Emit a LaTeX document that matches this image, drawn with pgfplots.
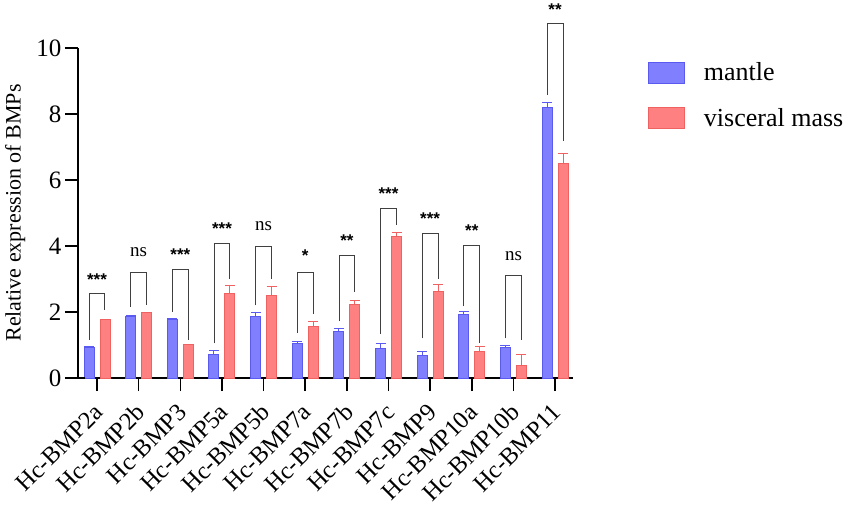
\documentclass[border=0pt]{standalone}
\usepackage{pgfplots}
\pgfplotsset{compat=1.18}
\usepackage{pgfplotstable}
\usepackage{fontspec}
\setmainfont{Liberation Serif}
\newfontfamily\starfont{Liberation Sans}
\definecolor{bfill}{HTML}{8080FF}
\definecolor{bedge}{HTML}{5A5AF0}
\definecolor{rfill}{HTML}{FF8080}
\definecolor{redge}{HTML}{F06262}
\definecolor{brk}{HTML}{404040}
\pgfplotstableread{
x m me v ve
0 0.93 0.03 1.76 0.02
1 1.87 0.03 1.97 0.03
2 1.78 0.03 1.01 0.02
3 0.70 0.13 2.55 0.25
4 1.87 0.10 2.50 0.28
5 1.06 0.06 1.57 0.13
6 1.40 0.10 2.22 0.12
7 0.89 0.17 4.29 0.13
8 0.67 0.14 2.63 0.19
9 1.92 0.10 0.79 0.17
10 0.93 0.07 0.38 0.32
11 8.20 0.16 6.49 0.31
}\datatable
\newcommand{\st}[1]{{\starfont\bfseries\fontsize{17}{17}\selectfont #1}}
\newcommand{\ns}{{\fontsize{19}{19}\selectfont ns}}
\begin{document}
\begin{tikzpicture}
\path[use as bounding box] (-78pt,-131pt) rectangle (773pt,378pt);
\begin{axis}[
  ybar, bar width=10pt,
  scale only axis, width=495pt, height=330pt,
  xmin=-0.457, xmax=11.43, ymin=0, ymax=10,
  axis lines=left, axis line style={-, line width=1.5pt, black},
  clip=false,
  xtick={0,...,11}, xticklabels={Hc-BMP2a,Hc-BMP2b,Hc-BMP3,Hc-BMP5a,Hc-BMP5b,Hc-BMP7a,Hc-BMP7b,Hc-BMP7c,Hc-BMP9,Hc-BMP10a,Hc-BMP10b,Hc-BMP11},
  ytick={0,2,...,10},
  tick align=outside, major tick length=13pt, tick style={line width=1.5pt, black},
  minor tick num=0,
  /pgf/number format/assume math mode=true,
  yticklabel style={font=\fontsize{25}{25}\selectfont},
  xticklabel style={font=\fontsize{24.5}{24.5}\selectfont, xshift=2pt, yshift=-17pt, rotate=45, anchor=east, inner sep=0pt},
  ylabel={Relative expression of BMPs},
  ylabel style={font=\fontsize{22}{22}\selectfont, at={(axis description cs:-0.127,0.5)}, anchor=center},
  legend image code/.code={\draw[#1, line width=1pt] (0pt,-10.5pt) rectangle (36pt,10.5pt);},
  legend style={draw=none, fill=none, at={(axis description cs:1.151,0.962)}, anchor=north west,
    font=\fontsize{26}{26}\selectfont, inner sep=0pt, row sep=22pt,
    nodes={inner sep=2pt}, /tikz/column 1/.style={column sep=17pt}},
  legend cell align=left,
]
\addplot[bar shift=-8pt, fill=bfill, draw=bedge, line width=1pt,
  error bars/.cd, y dir=plus, y explicit,
  error bar style={line width=1pt, bedge},
  error mark options={rotate=90, mark size=5pt, line width=1pt, bedge}]
  table[x=x, y=m, y error=me] {\datatable};
\addlegendentry{mantle}
\addplot[bar shift=8pt, fill=rfill, draw=redge, line width=1pt,
  error bars/.cd, y dir=plus, y explicit,
  error bar style={line width=1pt, redge},
  error mark options={rotate=90, mark size=5pt, line width=1pt, redge}]
  table[x=x, y=v, y error=ve] {\datatable};
\addlegendentry{visceral mass}
% significance brackets
\pgfplotsset{every axis plot post/.append style={forget plot}}
\pgfplotsset{brkstyle/.style={sharp plot, bar shift=0pt, brk, line width=0.9pt, mark=none}}
\addplot[brkstyle] coordinates {(-0.19,1.16) (-0.19,2.55) (0.19,2.55) (0.19,2.05)};
\addplot[brkstyle] coordinates {(0.81,2.15) (0.81,3.2) (1.19,3.2) (1.19,2.2)};
\addplot[brkstyle] coordinates {(1.81,2.0) (1.81,3.3) (2.19,3.3) (2.19,1.15)};
\addplot[brkstyle] coordinates {(2.81,1.05) (2.81,4.08) (3.19,4.08) (3.19,3.0)};
\addplot[brkstyle] coordinates {(3.81,2.2) (3.81,4.0) (4.19,4.0) (4.19,3.0)};
\addplot[brkstyle] coordinates {(4.81,1.37) (4.81,3.2) (5.19,3.2) (5.19,1.95)};
\addplot[brkstyle] coordinates {(5.81,1.72) (5.81,3.7) (6.19,3.7) (6.19,2.6)};
\addplot[brkstyle] coordinates {(6.81,1.34) (6.81,5.14) (7.19,5.14) (7.19,4.64)};
\addplot[brkstyle] coordinates {(7.81,1.2) (7.81,4.37) (8.19,4.37) (8.19,3.0)};
\addplot[brkstyle] coordinates {(8.81,2.17) (8.81,4.03) (9.19,4.03) (9.19,1.07)};
\addplot[brkstyle] coordinates {(9.81,1.2) (9.81,3.11) (10.19,3.11) (10.19,1.15)};
\addplot[brkstyle] coordinates {(10.81,8.58) (10.81,10.73) (11.19,10.73) (11.19,7.17)};
\node at (axis cs:0,2.98) {\st{***}};
\node at (axis cs:1,3.8) {\ns};
\node at (axis cs:2,3.73) {\st{***}};
\node at (axis cs:3,4.52) {\st{***}};
\node at (axis cs:4,4.59) {\ns};
\node at (axis cs:5,3.7) {\st{*}};
\node at (axis cs:6,4.17) {\st{**}};
\node at (axis cs:7,5.6) {\st{***}};
\node at (axis cs:8,4.83) {\st{***}};
\node at (axis cs:9,4.47) {\st{**}};
\node at (axis cs:10,3.7) {\ns};
\node at (axis cs:11,11.16) {\st{**}};
\draw[line width=1.5pt] (rel axis cs:0,0) -- ++(-12.5pt,0);
\end{axis}
\end{tikzpicture}
\end{document}
